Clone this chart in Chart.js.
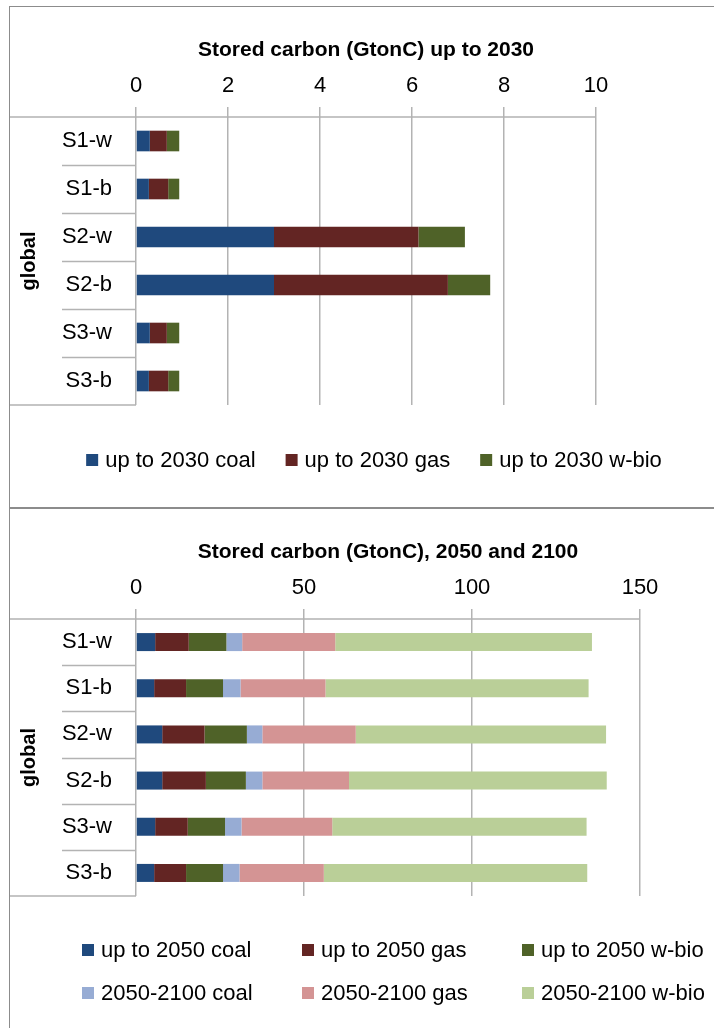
<!DOCTYPE html>
<html><head><meta charset="utf-8">
<script src="https://cdn.jsdelivr.net/npm/chart.js@4/dist/chart.umd.min.js"></script>
<style>
html,body{margin:0;padding:0;background:#fff;overflow:hidden;width:714px;height:1028px;}
#w1{position:absolute;left:9px;top:6px;width:720px;height:500px;border:1px solid #8c8c8c;}
#w2{position:absolute;left:9px;top:508px;width:720px;height:530px;border:1px solid #8c8c8c;}
canvas{display:block}
</style></head><body>
<div id="w1"><canvas id="c1" width="704" height="500"></canvas></div>
<div id="w2"><canvas id="c2" width="704" height="519"></canvas></div>
<script>
// ---- data ----
const categories = ['S1-w','S1-b','S2-w','S2-b','S3-w','S3-b'];
const groupLabel = 'global';

const title2030 = 'Stored carbon (GtonC) up to 2030';
const ticks2030 = [0, 2, 4, 6, 8, 10];
const labels2030 = ['up to 2030 coal','up to 2030 gas','up to 2030 w-bio'];
const coal2030 = [0.30, 0.28, 3.00, 3.00, 0.30, 0.28];
const gas2030  = [0.37, 0.42, 3.14, 3.78, 0.37, 0.42];
const bio2030  = [0.27, 0.24, 1.01, 0.92, 0.27, 0.24];

const title2100 = 'Stored carbon (GtonC), 2050 and 2100';
const ticks2100 = [0, 50, 100, 150];
const labels2100 = ['up to 2050 coal','up to 2050 gas','up to 2050 w-bio','2050-2100 coal','2050-2100 gas','2050-2100 w-bio'];
const coal2050 = [5.7, 5.4, 7.8, 7.8, 5.7, 5.4];
const gas2050  = [10.0, 9.5, 12.6, 13.0, 9.7, 9.5];
const bio2050  = [11.2, 11.0, 12.6, 11.9, 11.1, 11.0];
const coal2100 = [4.7, 5.2, 4.6, 4.9, 4.9, 4.9];
const gas2100  = [27.7, 25.3, 27.8, 25.8, 27.0, 25.1];
const bio2100  = [76.4, 78.3, 74.5, 76.7, 75.7, 78.4];

// ---- style ----
const FONT = '"Liberation Sans", Arial, sans-serif';
const COLORS = ['#1F497D','#632523','#4F6228','#97ACD4','#D49494','#BACF98'];
const LINE = '#b3b3b3';

const framePlugin = {
  id: 'frame',
  beforeDatasetsDraw(chart, args, o) {
    const ctx = chart.ctx, a = chart.chartArea, ys = chart.scales.y;
    ctx.save();
    ctx.strokeStyle = LINE; ctx.lineWidth = 1.5;
    ctx.beginPath();
    ctx.moveTo(0, a.top); ctx.lineTo(a.right, a.top);
    ctx.moveTo(0, a.bottom); ctx.lineTo(a.left, a.bottom);
    const n = chart.data.labels.length;
    for (let i = 1; i < n; i++) {
      const y = Math.round((ys.getPixelForValue(i - 1) + ys.getPixelForValue(i)) / 2) + 0.5;
      ctx.moveTo(o.sepX, y); ctx.lineTo(a.left, y);
    }
    ctx.stroke();
    ctx.restore();
  },
  afterDraw(chart, args, o) {
    const ctx = chart.ctx;
    const ds = chart.data.datasets;
    ctx.save();
    ctx.font = '22px ' + FONT;
    ctx.textBaseline = 'middle';
    ctx.textAlign = 'left';
    const box = 12, gap = 7;
    if (o.mode === 'flow') {
      const widths = ds.map(d => box + gap + ctx.measureText(d.label).width);
      const total = widths.reduce((s, w) => s + w, 0) + o.spacing * (ds.length - 1);
      let x = o.centerX - total / 2;
      ds.forEach((d, i) => {
        ctx.fillStyle = d.backgroundColor;
        ctx.fillRect(x, o.y - box / 2, box, box);
        ctx.fillStyle = '#000';
        ctx.fillText(d.label, x + box + gap, o.y + 1);
        x += widths[i] + o.spacing;
      });
    } else {
      ds.forEach((d, i) => {
        const col = i % o.cols, row = Math.floor(i / o.cols);
        const x = o.x0 + col * o.colW, y = o.rows[row];
        ctx.fillStyle = d.backgroundColor;
        ctx.fillRect(x, y - box / 2, box, box);
        ctx.fillStyle = '#000';
        ctx.fillText(d.label, x + box + gap, y + 1);
      });
    }
    ctx.restore();
  }
};

function makeChart(id, cfg) {
  const datasets = cfg.series.map((s, i) => ({
    label: cfg.labels[i], data: s, backgroundColor: COLORS[cfg.colorIdx[i]],
    borderWidth: 0, barPercentage: cfg.barPct, categoryPercentage: 1
  }));
  return new Chart(document.getElementById(id), {
    type: 'bar',
    data: { labels: categories, datasets },
    plugins: [framePlugin],
    options: {
      indexAxis: 'y', responsive: false, animation: false, devicePixelRatio: 1,
      layout: { padding: cfg.padding },
      plugins: {
        legend: { display: false }, tooltip: { enabled: false },
        frame: Object.assign({ sepX: 52 }, cfg.legend)
      },
      scales: {
        x: {
          type: 'linear', position: 'top', stacked: true,
          min: cfg.ticks[0], max: cfg.ticks[cfg.ticks.length - 1],
          afterBuildTicks(s) { s.ticks = cfg.ticks.map(v => ({ value: v })); },
          ticks: { color: '#000', font: { family: FONT, size: 22 }, padding: 8 },
          grid: { color: LINE, lineWidth: 1.5, tickLength: 10, tickColor: LINE },
          border: { display: false },
          title: { display: true, text: cfg.title, color: '#000',
                   font: { family: FONT, size: 21, weight: 'bold' }, padding: { top: 31, bottom: 0 } },
          afterFit(s) { s.height = 110; }
        },
        y: {
          type: 'category', stacked: true,
          ticks: { color: '#000', font: { family: FONT, size: 22 }, padding: 24 },
          grid: { display: false, drawTicks: false },
          border: { display: false },
          title: { display: true, text: groupLabel, color: '#000',
                   font: { family: FONT, size: 20, weight: 'bold' }, padding: { top: 7, bottom: 0 } },
          afterFit(s) { s.width = 126; }
        }
      }
    }
  });
}

makeChart('c1', {
  series: [coal2030, gas2030, bio2030], labels: labels2030, colorIdx: [0, 1, 2],
  ticks: ticks2030, title: title2030, barPct: 0.43,
  padding: { left: 0, top: 0, right: 118, bottom: 102 },
  legend: { mode: 'flow', centerX: 364, y: 453, spacing: 30 }
});
makeChart('c2', {
  series: [coal2050, gas2050, bio2050, coal2100, gas2100, bio2100], labels: labels2100, colorIdx: [0, 1, 2, 3, 4, 5],
  ticks: ticks2100, title: title2100, barPct: 0.39,
  padding: { left: 0, top: 0, right: 74, bottom: 132 },
  legend: { mode: 'grid', cols: 3, x0: 72, colW: 220, rows: [441, 484] }
});
</script>
</body></html>
